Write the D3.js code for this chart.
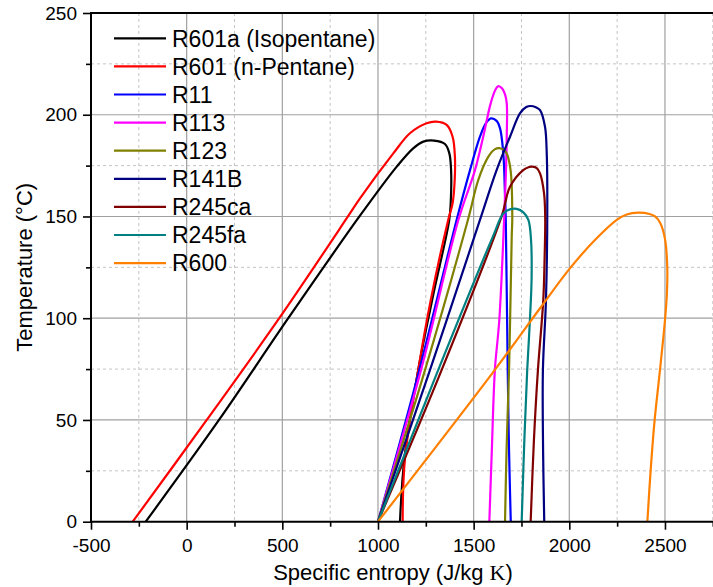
<!DOCTYPE html>
<html>
<head>
<meta charset="utf-8">
<script src="https://cdn.jsdelivr.net/npm/d3@7"></script>
<style>
  body { margin: 0; background: #fff; }
  svg { display: block; font-family: "Liberation Sans", Arial, sans-serif; }
</style>
</head>
<body>
<div id="chart"></div>
<script>
// refrigerant names, legend order
const names = ["R601a (Isopentane)", "R601 (n-Pentane)", "R11", "R113", "R123", "R141B", "R245ca", "R245fa", "R600"];

// saturation dome of each fluid: entropy (J/kg K) and temperature (°C), liquid side up, vapour side down
const r601aS = [-214, 169, 531, 903, 1098, 1184, 1237, 1293, 1350, 1373, 1382, 1380, 1372, 1290, 1211, 1138, 1115];
const r601aT = [0, 50, 100, 150, 174.5, 183.5, 186.8, 187.3, 185.6, 181, 172.8, 156.5, 148, 112, 75, 31, 0];

const r601S = [-282, 105, 484, 843, 906, 1080, 1167, 1254, 1303, 1359, 1390, 1402, 1401, 1390, 1367, 1276, 1211, 1141, 1129];
const r601T = [0, 50, 100, 150, 158.9, 181, 190.9, 195.8, 196.6, 195, 189.2, 179.4, 167.9, 156.5, 148.3, 109, 75, 31, 0];

const r11S = [1000, 1216, 1411, 1481, 1533, 1565, 1591, 1620, 1638, 1655, 1664, 1668, 1678, 1685, 1694];
const r11T = [0, 74.6, 148.3, 172.8, 189.2, 196, 198.2, 197, 193.3, 181, 160, 148.3, 74.6, 35, 0];

const r113S = [1000, 1225, 1420, 1507, 1550, 1589, 1615, 1629, 1648, 1664, 1673, 1673, 1669, 1660, 1634, 1611, 1595, 1582];
const r113T = [0, 74.6, 148.3, 172.8, 189.2, 205.6, 212.5, 214.1, 213, 210, 205.6, 189.2, 172.8, 150, 99, 74.6, 35, 0];

const r123S = [1000, 1246, 1472, 1524, 1577, 1610, 1634, 1660, 1673, 1693, 1702, 1699, 1685, 1672, 1664];
const r123T = [0, 74.6, 149, 167.9, 179.4, 183, 183.6, 182.5, 181, 172.8, 150, 140, 74.6, 35, 0];

const r141bS = [1000, 1272, 1533, 1620, 1690, 1742, 1775, 1798, 1825, 1847, 1873, 1882, 1885, 1878, 1862, 1863, 1869];
const r141bT = [0, 74.6, 148.3, 172.8, 189.2, 200.7, 203.8, 204.3, 203.7, 202.3, 194.1, 181, 155, 109, 74.6, 35, 0];

const r245caS = [1000, 1333, 1646, 1690, 1759, 1790, 1808, 1830, 1847, 1868, 1874, 1871, 1864, 1836, 1815, 1798];
const r245caT = [0, 74.6, 150, 164.6, 172.8, 174.3, 174.5, 173.8, 171.2, 161.4, 150, 130, 109, 74.6, 40, 0];

const r245faS = [1000, 1315, 1600, 1655, 1690, 1725, 1760, 1786, 1800, 1803, 1794, 1780, 1765, 1751];
const r245faT = [0, 74.6, 140, 151.5, 153.5, 153.7, 152, 148.3, 138.4, 120, 99, 74.6, 40, 0];

const r600S = [1000, 1611, 1847, 2003, 2134, 2248, 2300, 2360, 2420, 2448, 2474, 2500, 2512, 2510, 2500, 2474, 2446, 2425, 2408];
const r600T = [0, 74.6, 104.9, 124.5, 138.4, 148.3, 151, 151.9, 151.2, 150, 147, 139, 125, 112, 99, 74.6, 50, 25, 0];

// axis ticks
const xMajor = [-500, 0, 500, 1000, 1500, 2000, 2500];
const xMinor = [-250, 250, 750, 1250, 1750, 2250, 2750];
const yMajor = [0, 50, 100, 150, 200, 250];
const yMinor = [25, 75, 125, 175, 225];

const colors = ["#000000", "#ff0000", "#0000ff", "#ff00ff", "#808000", "#000080", "#800000", "#008080", "#ff8000"];

const sList = [r601aS, r601S, r11S, r113S, r123S, r141bS, r245caS, r245faS, r600S];
const tList = [r601aT, r601T, r11T, r113T, r123T, r141bT, r245caT, r245faT, r600T];
const series = names.map((name, i) => ({
    name: name,
    color: colors[i],
    points: sList[i].map((s, j) => ({ s: s, t: tList[i][j] }))
}));

const width = 713, height = 587;
const marginLeft = 91, marginTop = 13, plotRight = 712.8, plotBottom = 521.7;

const x = d3.scaleLinear().domain([-500, 2750]).range([marginLeft, plotRight]);
const y = d3.scaleLinear().domain([0, 250]).range([plotBottom, marginTop]);

const svg = d3.select("#chart").append("svg")
    .attr("width", width)
    .attr("height", height)
    .attr("viewBox", [0, 0, width, height]);

// grid
const grid = svg.append("g");
grid.selectAll(".vminor")
    .data(xMinor)
    .join("line")
    .attr("x1", d => x(d)).attr("x2", d => x(d))
    .attr("y1", marginTop).attr("y2", plotBottom)
    .attr("stroke", "#c4c4c4").attr("stroke-width", 1).attr("stroke-dasharray", "3,3");
grid.selectAll(".hminor")
    .data(yMinor)
    .join("line")
    .attr("x1", marginLeft).attr("x2", plotRight)
    .attr("y1", d => y(d)).attr("y2", d => y(d))
    .attr("stroke", "#c4c4c4").attr("stroke-width", 1).attr("stroke-dasharray", "3,3");
grid.selectAll(".vmajor")
    .data(xMajor.filter(d => d > -500))
    .join("line")
    .attr("x1", d => x(d)).attr("x2", d => x(d))
    .attr("y1", marginTop).attr("y2", plotBottom)
    .attr("stroke", "#a0a0a0").attr("stroke-width", 1.2);
grid.selectAll(".hmajor")
    .data(yMajor.filter(d => d > 0 && d < 250))
    .join("line")
    .attr("x1", marginLeft).attr("x2", plotRight)
    .attr("y1", d => y(d)).attr("y2", d => y(d))
    .attr("stroke", "#a0a0a0").attr("stroke-width", 1.2);

// curves
const line = d3.line()
    .x(d => x(d.s))
    .y(d => y(d.t))
    .curve(d3.curveCatmullRom.alpha(0.5));

svg.append("g")
    .selectAll("path")
    .data(series)
    .join("path")
    .attr("fill", "none")
    .attr("stroke", d => d.color)
    .attr("stroke-width", 2.2)
    .attr("stroke-linejoin", "round")
    .attr("d", d => line(d.points));

// axes
const plain = d => String(d);
const xAxis = d3.axisBottom(x).tickValues(xMajor).tickFormat(plain).tickSize(8).tickPadding(9).tickSizeOuter(0);
const xAxisMinor = d3.axisBottom(x).tickValues(xMinor).tickSize(5).tickFormat("").tickSizeOuter(0);
const yAxis = d3.axisLeft(y).tickValues(yMajor).tickFormat(plain).tickSize(8).tickPadding(6).tickSizeOuter(0);
const yAxisMinor = d3.axisLeft(y).tickValues(yMinor).tickSize(5).tickFormat("").tickSizeOuter(0);

svg.append("g")
    .attr("transform", `translate(0,${plotBottom})`)
    .call(xAxisMinor)
    .call(g => g.select(".domain").remove())
    .call(g => g.selectAll(".tick line").attr("stroke", "#000").attr("stroke-width", 1.6));
svg.append("g")
    .attr("transform", `translate(0,${plotBottom})`)
    .call(xAxis)
    .call(g => g.select(".domain").remove())
    .call(g => g.selectAll(".tick line").attr("stroke", "#000").attr("stroke-width", 1.6))
    .call(g => g.selectAll(".tick text").attr("fill", "#000").style("font-size", "19px").style("font-family", "'Liberation Sans', Arial, sans-serif"));

svg.append("g")
    .attr("transform", `translate(${marginLeft},0)`)
    .call(yAxisMinor)
    .call(g => g.select(".domain").remove())
    .call(g => g.selectAll(".tick line").attr("stroke", "#000").attr("stroke-width", 1.6));
svg.append("g")
    .attr("transform", `translate(${marginLeft},0)`)
    .call(yAxis)
    .call(g => g.select(".domain").remove())
    .call(g => g.selectAll(".tick line").attr("stroke", "#000").attr("stroke-width", 1.6))
    .call(g => g.selectAll(".tick text").attr("fill", "#000").style("font-size", "19px").style("font-family", "'Liberation Sans', Arial, sans-serif"));

// frame lines
svg.append("line")
    .attr("x1", marginLeft).attr("x2", marginLeft)
    .attr("y1", marginTop).attr("y2", plotBottom)
    .attr("stroke", "#000").attr("stroke-width", 2);
svg.append("line")
    .attr("x1", marginLeft - 1).attr("x2", width)
    .attr("y1", plotBottom).attr("y2", plotBottom)
    .attr("stroke", "#000").attr("stroke-width", 2);
svg.append("line")
    .attr("x1", marginLeft - 1).attr("x2", width)
    .attr("y1", marginTop).attr("y2", marginTop)
    .attr("stroke", "#000").attr("stroke-width", 2);

// axis titles
svg.append("text")
    .attr("x", 393)
    .attr("y", 580)
    .attr("text-anchor", "middle")
    .style("font-size", "22px")
    .text("Specific entropy (J/kg ")
    .call(t => t.append("tspan").style("font-family", "'Liberation Serif', 'DejaVu Serif', serif").text("K"))
    .call(t => t.append("tspan").text(")"));

svg.append("text")
    .attr("transform", `translate(32,${(marginTop + plotBottom) / 2}) rotate(-90)`)
    .attr("text-anchor", "middle")
    .style("font-size", "22px")
    .text("Temperature (°C)");

// legend
const legend = svg.append("g")
    .selectAll("g")
    .data(series)
    .join("g")
    .attr("transform", (d, i) => `translate(114,${38.3 + i * 28.1})`);
legend.append("line")
    .attr("x1", 0).attr("x2", 52)
    .attr("stroke", d => d.color)
    .attr("stroke-width", 2.2);
legend.append("text")
    .attr("x", 58)
    .attr("dy", "0.36em")
    .style("font-size", "23px")
    .text(d => d.name);
</script>
</body>
</html>
